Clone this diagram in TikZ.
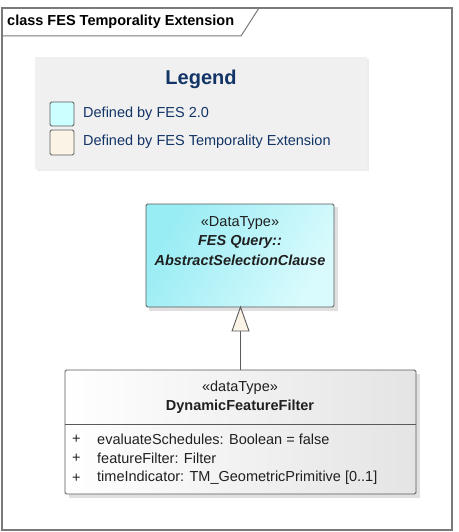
\documentclass[tikz,border=0pt]{standalone}
\usepackage{fontspec}
\setmainfont{Liberation Sans}
\usetikzlibrary{shapes.geometric}
\definecolor{framegray}{HTML}{7A7A7A}
\definecolor{boxline}{HTML}{5A5A5A}
\definecolor{legendbg}{HTML}{F0F0F0}
\definecolor{legendtxt}{HTML}{123466}
\definecolor{fescyan}{HTML}{CCFFFF}
\definecolor{extbeige}{HTML}{FBF3E6}
\definecolor{cyanA}{HTML}{98ECF4}
\definecolor{cyanB}{HTML}{DAFBFD}
\definecolor{grayA}{HTML}{FFFFFF}
\definecolor{grayB}{HTML}{E4E4E4}
\definecolor{txt}{HTML}{202020}
\tikzset{
  fnt/.style={font=\fontsize{14.5}{17}\selectfont},
  boxstyle/.style={draw=boxline, line width=0.9pt, rounded corners=1.5pt},
  swatch/.style={draw=boxline, line width=0.8pt, rounded corners=1.5pt},
  shadowstyle/.style={fill=black!12, draw=none},
}
\begin{document}
\begin{tikzpicture}[x=1pt,y=-1pt]
\useasboundingbox (0,0) rectangle (458,532);
\fill[white] (0,0) rectangle (458,532);
% frame
\draw[framegray, line width=1.2pt] (2,8) rectangle (452,530);
\draw[framegray, line width=1pt] (2,36) -- (241,36) -- (259,8);
\node[fnt, font=\fontsize{14.5}{17}\selectfont\bfseries, text=black, anchor=west, inner sep=0] (title) at (7,22) {class FES Temporality Extension};
% legend
\fill[black!7] (37,59) rectangle (369,171);
\fill[legendbg] (35,57) rectangle (367,169);
\node[font=\fontsize{20}{24}\selectfont\bfseries, text=legendtxt, inner sep=0] (legtitle) at (201,79) {Legend};
\draw[swatch, fill=fescyan] (50,102) rectangle (74,126);
\draw[swatch, fill=extbeige] (50,130) rectangle (74,155);
\node[fnt, text=legendtxt, anchor=west, inner sep=0] (leg1) at (83,114) {Defined by FES 2.0};
\node[fnt, text=legendtxt, anchor=west, inner sep=0] (leg2) at (83,142) {Defined by FES Temporality Extension};
% upper class
\fill[shadowstyle] (149,207) rectangle (338,311);
\draw[boxstyle, left color=cyanA, right color=cyanB, shading angle=60] (146,204) rectangle (334,307);
\node[fnt, text=txt, inner sep=0] (st1) at (240,223) {«DataType»};
\node[fnt, text=txt, font=\fontsize{14.5}{17}\selectfont\bfseries\itshape, inner sep=0] (q1) at (240,242) {FES Query::};
\node[fnt, text=txt, font=\fontsize{14.5}{17}\selectfont\bfseries\itshape, inner sep=0] (q2) at (240,260) {AbstractSelectionClause};
\coordinate (upbot) at (240.5,307);
% lower class
\fill[shadowstyle] (69,374) rectangle (420,498);
\draw[boxstyle, left color=grayA, right color=grayB] (65,370) rectangle (416,494);
\draw[boxline, line width=0.9pt] (65,424) -- (416,424);
\coordinate (lowtop) at (240.5,370);
\node[fnt, text=txt, inner sep=0] (st2) at (240,388) {«dataType»};
\node[fnt, text=txt, font=\fontsize{14.5}{17}\selectfont\bfseries, inner sep=0] (dff) at (240,407) {DynamicFeatureFilter};
\node[fnt, text=txt, anchor=west, inner sep=0] (p1) at (72,439) {+};
\node[fnt, text=txt, anchor=west, inner sep=0] (p2) at (72,458) {+};
\node[fnt, text=txt, anchor=west, inner sep=0] (p3) at (72,478) {+};
\node[fnt, text=txt, anchor=west, inner sep=0] (a1) at (97,439) {evaluateSchedules: Boolean = false};
\node[fnt, text=txt, anchor=west, inner sep=0] (a2) at (97,458) {featureFilter: Filter};
\node[fnt, text=txt, anchor=west, inner sep=0] (a3) at (97,478) {timeIndicator: TM\_GeometricPrimitive [0..1]};
% generalization
\coordinate (tribase) at (240.5,331);
\draw[boxline, line width=0.9pt] (lowtop) -- (tribase);
\draw[boxline, line width=0.9pt, fill=extbeige] (upbot) -- (249,331) -- (232,331) -- cycle;
\end{tikzpicture}
\end{document}
